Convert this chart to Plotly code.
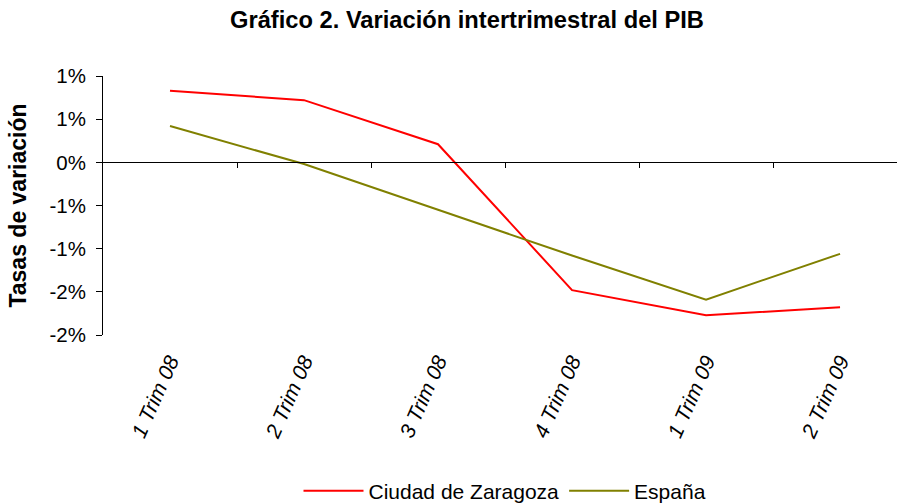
import plotly.graph_objects as go

categories = ["1 Trim 08", "2 Trim 08", "3 Trim 08", "4 Trim 08", "1 Trim 09", "2 Trim 09"]
zaragoza = [0.83, 0.72, 0.21, -1.48, -1.77, -1.68]
espana = [0.42, -0.02, -0.55, -1.08, -1.59, -1.06]
ytick_vals = [1.0, 0.5, 0.0, -0.5, -1.0, -1.5, -2.0]
ytick_text = ["1%", "1%", "0%", "-1%", "-1%", "-2%", "-2%"]
boundary_ticks = [0.5, 1.5, 2.5, 3.5, 4.5]

FONT = "Liberation Sans, Arial, sans-serif"
idx = list(range(len(categories)))

fig = go.Figure()
fig.add_trace(go.Scatter(x=idx, y=zaragoza, mode="lines", name="Ciudad de Zaragoza",
                         line=dict(color="#FF0000", width=2)))
fig.add_trace(go.Scatter(x=idx, y=espana, mode="lines", name="España",
                         line=dict(color="#808000", width=2)))

xr = [-0.5, 5.425]
fig.update_layout(
    width=897, height=504,
    paper_bgcolor="white", plot_bgcolor="white",
    margin=dict(l=103, r=0, t=76, b=169),
    font=dict(family=FONT, color="black"),
    title=dict(text="<b>Gráfico 2. Variación intertrimestral del PIB</b>",
               x=467/897, xref="container", xanchor="center",
               y=1 - 20/504, yref="container", yanchor="middle",
               font=dict(size=23.7, family=FONT)),
    xaxis=dict(range=xr, tickvals=idx, ticktext=categories, tickangle=-66,
               showline=False, showgrid=False, zeroline=False, ticks="",
               ticklabelstandoff=9,
               tickfont=dict(size=21, style="italic", family=FONT)),
    xaxis2=dict(range=xr, overlaying="x", anchor="free", position=2/3, side="bottom",
                showline=True, linecolor="black", linewidth=1, ticks="outside",
                ticklen=5, tickcolor="black", tickvals=boundary_ticks,
                showticklabels=False, showgrid=False, zeroline=False),
    yaxis=dict(range=[-2, 1], tickvals=ytick_vals, ticktext=ytick_text,
               showline=True, linecolor="black", linewidth=1, ticks="outside",
               ticklen=6, tickcolor="black", showgrid=False, zeroline=False,
               ticklabelstandoff=6,
               tickfont=dict(size=20.5, family=FONT),
               title=dict(text="<b>Tasas de variación</b>", standoff=16,
                          font=dict(size=23, family=FONT))),
    showlegend=True,
    legend=dict(orientation="h", xref="container", yref="container",
                x=505/897, xanchor="center", y=13/504, yanchor="middle",
                font=dict(size=21, family=FONT), itemwidth=60,
                bgcolor="rgba(0,0,0,0)"),
)
# empty trace on xaxis2 so the zero axis is drawn
fig.add_trace(go.Scatter(x=[None], y=[None], xaxis="x2", showlegend=False, hoverinfo="skip"))

fig.write_html("out.html", config={"displayModeBar": False},
               post_script="document.body.style.margin='0';")
